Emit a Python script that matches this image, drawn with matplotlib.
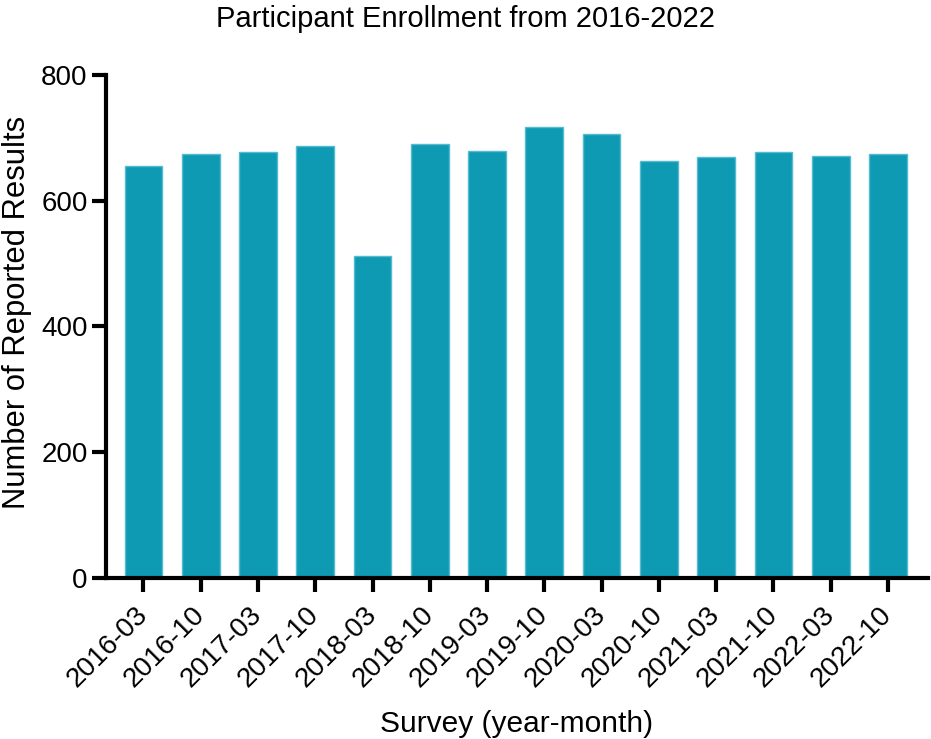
import matplotlib
matplotlib.use("Agg")
import matplotlib.pyplot as plt

surveys = ["2016-03", "2016-10", "2017-03", "2017-10", "2018-03", "2018-10", "2019-03",
           "2019-10", "2020-03", "2020-10", "2021-03", "2021-10", "2022-03", "2022-10"]
results = [655, 675, 677, 687, 512, 690, 679, 717, 706, 663, 669, 678, 671, 675]
y_ticks = [0, 200, 400, 600, 800]

plt.rcParams['font.family'] = ['Liberation Sans', 'DejaVu Sans']

fig = plt.figure(figsize=(9.31, 7.39), dpi=100)
ax = fig.add_axes([0.1135, 0.2183, 0.8833, 0.6802])

x = list(range(len(surveys)))
ax.bar(x, results, width=0.66, color='#0f9ab4', edgecolor='#55bccf', linewidth=1.0)

ax.set_xlim(-0.66, len(surveys) - 1 + 0.70)
ax.set_ylim(0, 800)
ax.set_yticks(y_ticks)
ax.set_xticks(x)
ax.set_xticklabels(surveys, rotation=45, ha='right', va='center', rotation_mode='anchor')

for s in ['top', 'right']:
    ax.spines[s].set_visible(False)
for s in ['left', 'bottom']:
    ax.spines[s].set_linewidth(3)
ax.tick_params(axis='both', width=3, length=10, labelsize=20, direction='out')
ax.tick_params(axis='x', pad=14)
ax.tick_params(axis='y', pad=3)

ax.set_xlabel("Survey (year-month)", fontsize=21.5, labelpad=13)
ax.set_ylabel("Number of Reported Results", fontsize=22.3)
ax.yaxis.set_label_coords(-0.090, 0.527)
fig.suptitle("Participant Enrollment from 2016-2022", fontsize=21, y=0.993)

fig.savefig("out.png", dpi=100)
